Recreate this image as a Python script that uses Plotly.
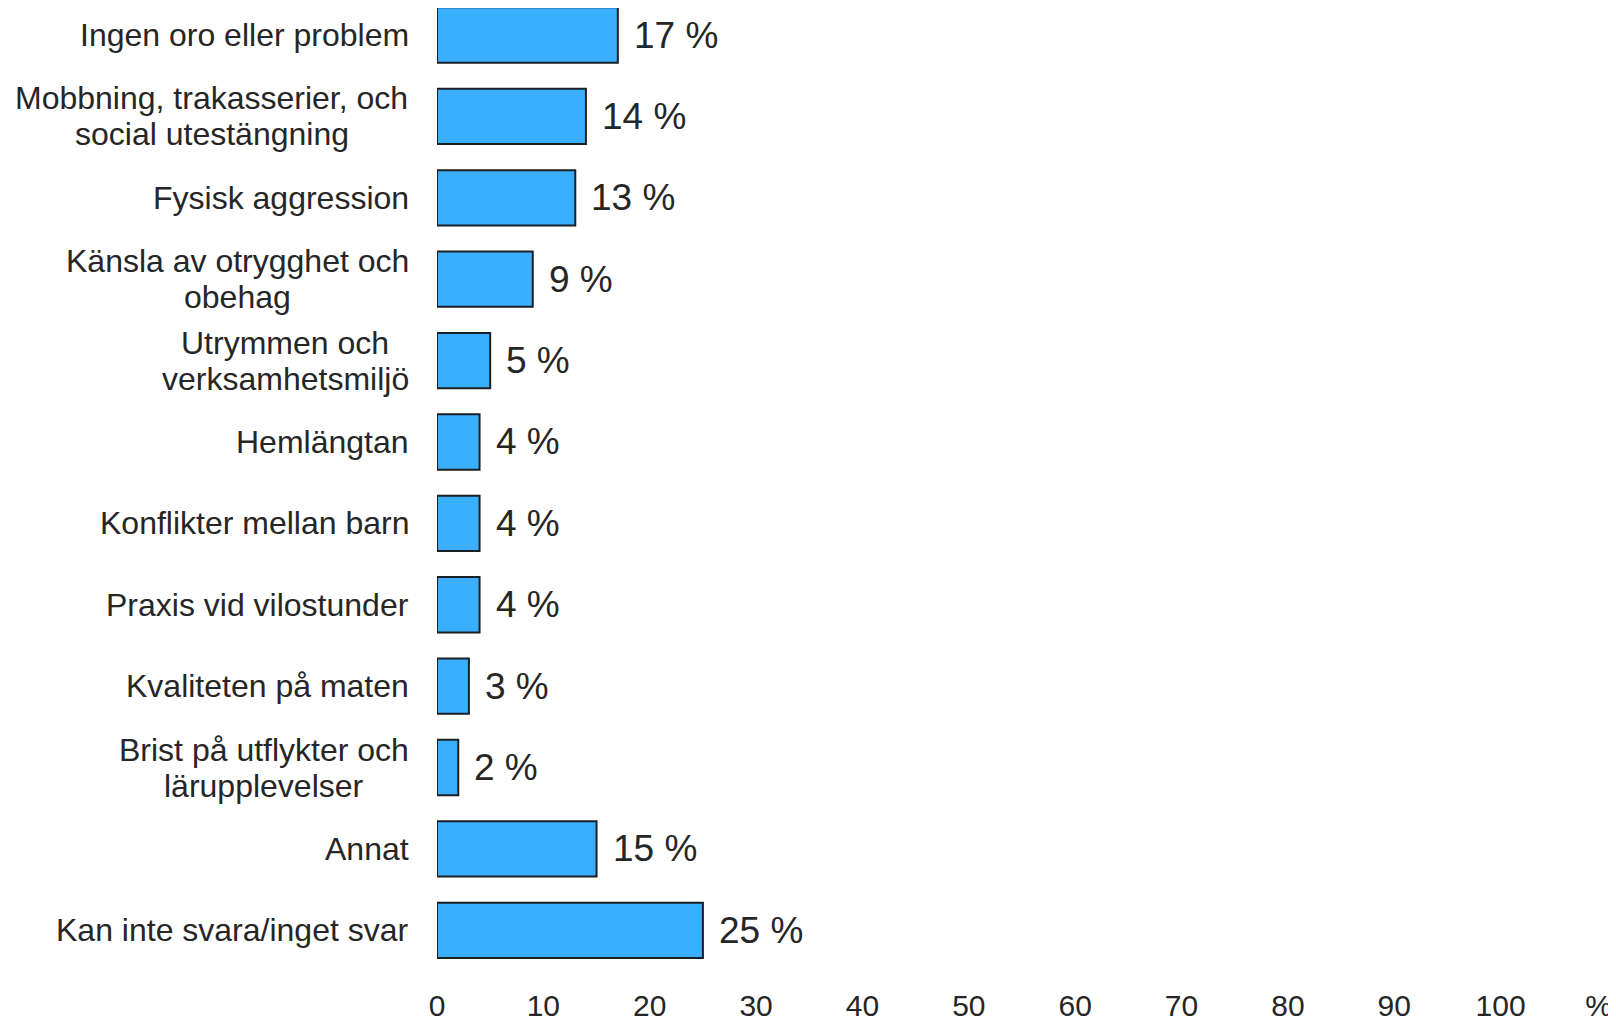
import plotly.graph_objects as go

categories = [
    "Ingen oro eller problem",
    "Mobbning, trakasserier, och<br>social utestängning",
    "Fysisk aggression",
    "Känsla av otrygghet och<br>obehag",
    "Utrymmen och<br>verksamhetsmiljö",
    "Hemlängtan",
    "Konflikter mellan barn",
    "Praxis vid vilostunder",
    "Kvaliteten på maten",
    "Brist på utflykter och<br>lärupplevelser",
    "Annat",
    "Kan inte svara/inget svar",
]
values = [17, 14, 13, 9, 5, 4, 4, 4, 3, 2, 15, 25]
tick_values = [0, 10, 20, 30, 40, 50, 60, 70, 80, 90, 100, 109.2]
tick_labels = ["0", "10", "20", "30", "40", "50", "60", "70", "80", "90", "100", "%"]

FONT = "Liberation Sans, Arial, sans-serif"
TXT = "#262626"
LABEL_SIZE = 32

# Arial / Liberation Sans advance widths (per 1000 em) for centering wrapped labels
_W = {" ": 278, ",": 278, "/": 278, ".": 278,
      "a": 556, "b": 556, "c": 500, "d": 556, "e": 556, "f": 278, "g": 556, "h": 556,
      "i": 222, "j": 222, "k": 500, "l": 222, "m": 833, "n": 556, "o": 556, "p": 556,
      "q": 556, "r": 333, "s": 500, "t": 278, "u": 556, "v": 500, "w": 722, "x": 500,
      "y": 500, "z": 500, "å": 556, "ä": 556, "ö": 556,
      "A": 667, "B": 667, "C": 722, "D": 722, "E": 667, "F": 611, "G": 778, "H": 722,
      "I": 278, "J": 500, "K": 667, "L": 556, "M": 833, "N": 722, "O": 778, "P": 667,
      "Q": 778, "R": 722, "S": 667, "T": 611, "U": 722, "V": 667, "W": 944, "X": 667,
      "Y": 667, "Z": 611}


def text_width(s, size):
    return sum(_W.get(ch, 556) for ch in s) * size / 1000.0


fig = go.Figure()
fig.add_trace(go.Bar(
    y=list(range(len(categories))),
    x=values,
    orientation="h",
    marker=dict(color="#3BAFFF", line=dict(color="#1a1f24", width=2)),
    width=0.68,
    hoverinfo="skip",
))

annotations = []
for i, (cat, v) in enumerate(zip(categories, values)):
    lines = cat.split("<br>")
    n = len(lines)
    block_w = max(text_width(l, LABEL_SIZE) for l in lines)
    for j, line in enumerate(lines):
        shift = ((n - 1) / 2 - j) * 36
        annotations.append(dict(
            x=0, xref="paper", y=i, yref="y",
            text=line, showarrow=False,
            xanchor="center", yanchor="middle",
            xshift=-28 - block_w / 2, yshift=shift,
            font=dict(family=FONT, size=LABEL_SIZE, color=TXT),
        ))
    annotations.append(dict(
        x=v, xref="x", y=i, yref="y",
        text=f"{v} %", showarrow=False,
        xanchor="left", yanchor="middle",
        xshift=14,
        font=dict(family=FONT, size=37, color=TXT),
    ))

fig.update_layout(
    width=1608, height=1015,
    margin=dict(l=429, r=9, t=0, b=52, autoexpand=False),
    paper_bgcolor="white", plot_bgcolor="white",
    showlegend=False,
    annotations=annotations,
    xaxis=dict(
        range=[0, 110], tickmode="array", tickvals=tick_values, ticktext=tick_labels,
        showgrid=False, zeroline=False, showline=False, ticks="",
        tickfont=dict(family=FONT, size=30, color=TXT),
        ticklabelstandoff=14, automargin=False,
    ),
    yaxis=dict(
        range=[11.5, -0.332], showticklabels=False, showgrid=False,
        zeroline=False, showline=False, ticks="", automargin=False,
    ),
)

fig.write_html("out.html")
